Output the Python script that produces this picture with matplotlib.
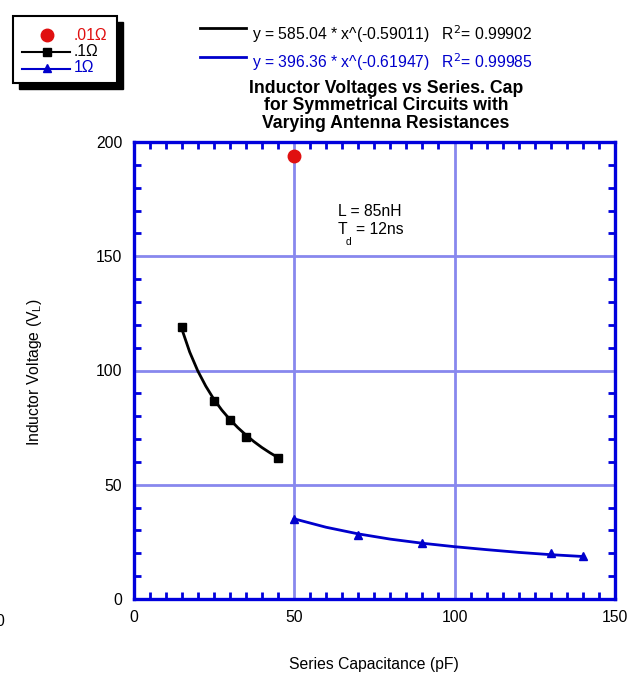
import numpy as np
import matplotlib.pyplot as plt
from matplotlib.patches import Rectangle
from matplotlib.lines import Line2D
from matplotlib.ticker import MultipleLocator

plt.rcParams['font.family'] = ['Liberation Sans', 'DejaVu Sans']

# data
red_x = [50]
red_y = [194]

black_mk_x = [15, 25, 30, 35, 45]
black_mk_y = [119, 86.6, 78.3, 70.9, 61.7]
black_ln_x = [15, 17.5, 20, 22.5, 25, 27.5, 30, 32.5, 35, 37.5, 40, 42.5, 45]
black_ln_y = [118.4, 108.1, 99.9, 93.2, 87.5, 82.7, 78.6, 75.0, 71.8, 68.9, 66.3, 64.0, 61.9]

blue_mk_x = [50, 70, 90, 130, 140]
blue_mk_y = [35.0, 28.0, 24.5, 20.1, 18.8]
blue_ln_x = [50, 60, 70, 80, 90, 100, 110, 120, 130, 140]
blue_ln_y = [35.1, 31.4, 28.5, 26.2, 24.4, 22.9, 21.6, 20.4, 19.4, 18.6]

eq_black = "y = 585.04 * x^(-0.59011)   R$^2$= 0.99902"
eq_blue = "y = 396.36 * x^(-0.61947)   R$^2$= 0.99985"

W, H = 634, 677
fig = plt.figure(figsize=(W / 100, H / 100), dpi=100)
ax = fig.add_axes([133.5 / W, 1 - 599 / H, (615 - 133.5) / W, (599 - 142) / H])

spine_c = '#0000dd'
grid_c = '#8888ee'
fs = 11.3

ax.set_xlim(0, 150)
ax.set_ylim(0, 200)
ax.xaxis.set_major_locator(MultipleLocator(50))
ax.yaxis.set_major_locator(MultipleLocator(50))
ax.xaxis.set_minor_locator(MultipleLocator(5))
ax.yaxis.set_minor_locator(MultipleLocator(10))
ax.grid(True, which='major', color=grid_c, lw=2)
ax.set_axisbelow(True)
for s in ax.spines.values():
    s.set_color(spine_c)
    s.set_linewidth(2.4)
ax.tick_params(which='both', direction='in', top=True, right=True, color=spine_c,
               labelsize=fs, labelcolor='black')
ax.tick_params(which='minor', length=5, width=2)
ax.tick_params(which='major', length=0, pad=8)

ax.plot(black_ln_x, black_ln_y, color='black', lw=2)
ax.plot(black_mk_x, black_mk_y, 's', color='black', ms=6)
ax.plot(blue_ln_x, blue_ln_y, color='#0000cc', lw=2)
ax.plot(blue_mk_x, blue_mk_y, '^', color='#0000cc', ms=6)
ax.plot(red_x, red_y, 'o', color='#e01010', ms=9, clip_on=False, zorder=5)

# L and Td note
fig.text(338 / W, 1 - 212 / H, "L = 85nH", fontsize=fs, va='center')
fig.text(338 / W, 1 - 230 / H, "T", fontsize=fs, va='center')
fig.text(348 / W, 1 - 242 / H, "d", fontsize=7.5, va='center', ha='center')
fig.text(356 / W, 1 - 230 / H, "= 12ns", fontsize=fs, va='center')

fig.text(374 / W, 1 - 665 / H, "Series Capacitance (pF)", fontsize=fs, ha='center', va='center')
fig.text(35 / W, 1 - 372 / H, "Inductor Voltage (V$_\\mathregular{L}$)", rotation=90,
         fontsize=fs, ha='center', va='center')
fig.text(0, 1 - 621 / H, "0", fontsize=fs, ha='center', va='center')

# title and fit equations
fig.text(386 / W, 1 - 106 / H, "Inductor Voltages vs Series. Cap\nfor Symmetrical Circuits with\nVarying Antenna Resistances",
         fontsize=12.7, fontweight='bold', ha='center', va='center', linespacing=1.05)
fig.add_artist(Line2D([200 / W, 246 / W], [1 - 28 / H] * 2, color='black', lw=2))
fig.add_artist(Line2D([200 / W, 246 / W], [1 - 57 / H] * 2, color='#0000cc', lw=2))
fig.text(252 / W, 1 - 34 / H, eq_black, fontsize=fs, va='center')
fig.text(252 / W, 1 - 62 / H, eq_blue, fontsize=fs, va='center', color='#0000cc')

# legend box with shadow
fig.add_artist(Rectangle((19 / W, 1 - 89 / H), 104 / W, 67 / H, color='black'))
fig.add_artist(Rectangle((13 / W, 1 - 83 / H), 104 / W, 67 / H, facecolor='white', edgecolor='black', lw=1.5))
fig.add_artist(Line2D([47 / W], [1 - 35 / H], marker='o', color='#e01010', ms=9))
fig.add_artist(Line2D([22 / W, 70 / W], [1 - 52 / H] * 2, color='black', lw=1.5))
fig.add_artist(Line2D([47 / W], [1 - 52 / H], marker='s', color='black', ms=6))
fig.add_artist(Line2D([22 / W, 70 / W], [1 - 69 / H] * 2, color='#0000cc', lw=1.5))
fig.add_artist(Line2D([47 / W], [1 - 68 / H], marker='^', color='#0000cc', ms=6))
fig.text(74 / W, 1 - 35 / H, ".01\u03a9", fontsize=fs, va='center', color='#e01010')
fig.text(74 / W, 1 - 52 / H, ".1\u03a9", fontsize=fs, va='center', color='black')
fig.text(74 / W, 1 - 68 / H, "1\u03a9", fontsize=fs, va='center', color='#0000cc')

fig.savefig("out.png", dpi=100)
